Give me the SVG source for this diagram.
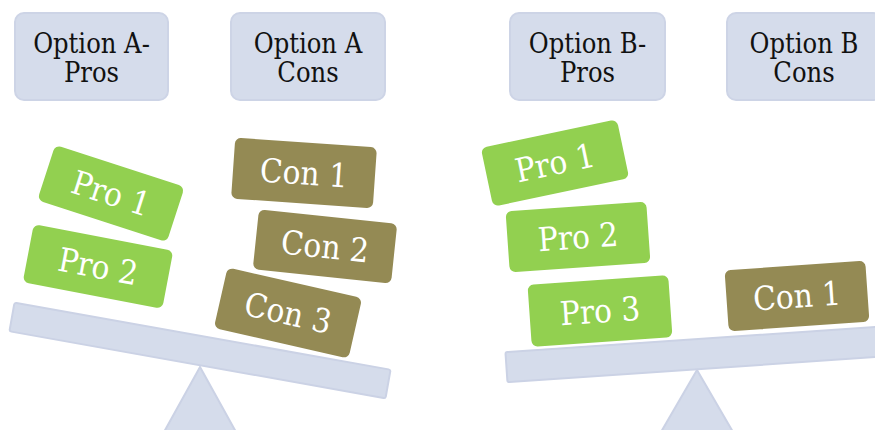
<svg xmlns="http://www.w3.org/2000/svg" width="875" height="430" viewBox="0 0 875 430">
  <style>
    .hdr { fill: #D5DCEB; stroke: #CDD4E6; stroke-width: 2; }
    .hdr-t { font-family: "DejaVu Serif", "Liberation Serif", serif; font-stretch: condensed; font-size: 27px; fill: #111; text-anchor: middle; }
    .beam { fill: #D5DCEB; stroke: #CBD2E5; stroke-width: 2; }
    .pro { fill: #92D050; stroke: #FFFFFF; stroke-width: 2; }
    .con { fill: #948A54; stroke: #FFFFFF; stroke-width: 2; }
    .blk-t { font-family: "DejaVu Serif", "Liberation Serif", serif; font-stretch: condensed; font-size: 33px; fill: #FFFFFF; text-anchor: middle; dominant-baseline: central; }
  </style>
  <rect width="875" height="430" fill="#FFFFFF"/>

  <!-- column headers -->
  <g id="hdr-a-pros">
    <rect class="hdr" x="15" y="13" width="153" height="87" rx="9"/>
    <text class="hdr-t" x="91.5" y="53">Option A-</text>
    <text class="hdr-t" x="91.5" y="82">Pros</text>
  </g>
  <g id="hdr-a-cons">
    <rect class="hdr" x="231" y="13" width="154" height="87" rx="9"/>
    <text class="hdr-t" x="308" y="53">Option A</text>
    <text class="hdr-t" x="308" y="82">Cons</text>
  </g>
  <g id="hdr-b-pros">
    <rect class="hdr" x="510" y="13" width="155" height="87" rx="9"/>
    <text class="hdr-t" x="587.5" y="53">Option B-</text>
    <text class="hdr-t" x="587.5" y="82">Pros</text>
  </g>
  <g id="hdr-b-cons">
    <rect class="hdr" x="727" y="13" width="155" height="87" rx="9"/>
    <text class="hdr-t" x="804" y="53">Option B</text>
    <text class="hdr-t" x="804" y="82">Cons</text>
  </g>

  <!-- seesaw A: fulcrum and tilted beam -->
  <g id="seesaw-a">
    <polygon class="beam" points="200,367 236,432 164,432"/>
    <g transform="translate(200,350.5) rotate(10.1)">
      <rect class="beam" x="-191" y="-14.5" width="382" height="29" rx="2"/>
    </g>
  </g>

  <!-- seesaw B: fulcrum and tilted beam -->
  <g id="seesaw-b">
    <polygon class="beam" points="697,370 733,432 661,432"/>
    <g transform="translate(700,354) rotate(-3.9)">
      <rect class="beam" x="-194" y="-15" width="400" height="30" rx="2"/>
    </g>
  </g>

  <!-- option A blocks -->
  <g id="a-pro-1" transform="translate(111,193.5) rotate(18)">
    <rect class="pro" x="-69" y="-30" width="138" height="60" rx="7"/>
    <text class="blk-t" x="0" y="0">Pro 1</text>
  </g>
  <g id="a-pro-2" transform="translate(98,266.5) rotate(10.8)">
    <rect class="pro" x="-72" y="-30.5" width="144" height="61" rx="7"/>
    <text class="blk-t" x="0" y="0">Pro 2</text>
  </g>
  <g id="a-con-1" transform="translate(304,173) rotate(4)">
    <rect class="con" x="-72" y="-31.5" width="144" height="63" rx="7"/>
    <text class="blk-t" x="0" y="0">Con 1</text>
  </g>
  <g id="a-con-2" transform="translate(325,246.5) rotate(6)">
    <rect class="con" x="-70.5" y="-31" width="141" height="62" rx="7"/>
    <text class="blk-t" x="0" y="0">Con 2</text>
  </g>
  <g id="a-con-3" transform="translate(288,313) rotate(12.8)">
    <rect class="con" x="-70" y="-32" width="140" height="64" rx="7"/>
    <text class="blk-t" x="0" y="0">Con 3</text>
  </g>

  <!-- option B blocks -->
  <g id="b-pro-1" transform="translate(555,163) rotate(-11.9)">
    <rect class="pro" x="-70.5" y="-31" width="141" height="62" rx="7"/>
    <text class="blk-t" x="0" y="0">Pro 1</text>
  </g>
  <g id="b-pro-2" transform="translate(578,237) rotate(-4)">
    <rect class="pro" x="-71.5" y="-31.5" width="143" height="63" rx="7"/>
    <text class="blk-t" x="0" y="0">Pro 2</text>
  </g>
  <g id="b-pro-3" transform="translate(600,311) rotate(-4)">
    <rect class="pro" x="-71.5" y="-32" width="143" height="64" rx="7"/>
    <text class="blk-t" x="0" y="0">Pro 3</text>
  </g>
  <g id="b-con-1" transform="translate(797,296) rotate(-4)">
    <rect class="con" x="-71.5" y="-31.5" width="143" height="63" rx="7"/>
    <text class="blk-t" x="0" y="0">Con 1</text>
  </g>

  <!-- no connectors in this drawing -->
  <g id="connectors"/>
</svg>
